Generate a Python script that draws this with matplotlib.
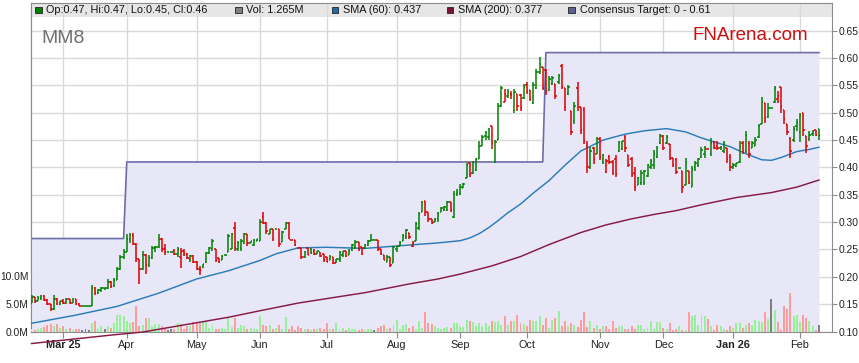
import numpy as np
import matplotlib
matplotlib.use("Agg")
import matplotlib.pyplot as plt
from matplotlib.collections import LineCollection
from matplotlib.patches import Rectangle

plt.rcParams["font.family"] = ["Liberation Sans", "DejaVu Sans"]

# ─── DATA (daily bars, Feb 2025 → Feb 2026) ────────────────────────────────────
opens = [
    .153, .163, .156, .161, .165, .157, .150, .141, .160, .151,   # 0
    .155, .152, .159, .153, .160, .151, .147, .147, .147, .147,   # 10
    .180, .170, .176, .179, .179, .190, .183, .195, .214, .236,   # 20
    .246, .270, .276, .260, .232, .215, .240, .222, .235, .252,   # 30
    .254, .270, .250, .245, .245, .247, .242, .236, .248, .242,   # 40
    .232, .238, .228, .215, .218, .227, .243, .250, .251, .234,   # 50
    .230, .239, .245, .251, .290, .250, .252, .262, .278, .262,   # 60
    .258, .266, .266, .310, .298, .279, .287, .287, .287, .263,   # 70
    .288, .298, .267, .267, .253, .253, .236, .252, .250, .248,   # 80
    .242, .245, .242, .236, .230, .236, .226, .233, .240, .247,   # 90
    .239, .249, .252, .263, .254, .252, .258, .266, .267, .267,   # 100
    .250, .239, .228, .236, .226, .250, .256, .266, .272, .280,   # 110
    .256, .266, .290, .318, .339, .318, .305, .300, .306, .318,   # 120
    .322, .322, .336, .310, .352, .352, .363, .381, .409, .390,   # 130
    .395, .415, .440, .458, .455, .475, .410, .450, .512, .520,   # 140
    .530, .535, .505, .534, .532, .527, .550, .541, .518, .545,   # 150
    .575, .583, .578, .541, .552, .553, .556, .585, .545, .535,   # 160
    .504, .485, .545, .510, .505, .440, .400, .435, .425, .452,   # 170
    .410, .392, .420, .410, .415, .430, .434, .455, .422, .415,   # 180
    .390, .367, .372, .372, .385, .400, .405, .420, .445, .458,   # 190
    .445, .443, .418, .415, .399, .394, .367, .394, .365, .400,   # 200
    .404, .420, .425, .433, .425, .445, .440, .435, .430, .436,   # 210
    .420, .400, .402, .410, .445, .430, .445, .436, .440, .455,   # 220
    .480, .518, .492, .508, .520, .525, .547, .505, .480, .452,   # 230
    .450, .475, .465, .499, .458, .452, .462, .468, .470,         # 240
]
highs = [
    .167, .164, .165, .167, .166, .160, .151, .167, .161, .156,
    .160, .162, .160, .161, .160, .152, .147, .147, .147, .185,
    .182, .178, .181, .180, .196, .192, .198, .218, .240, .250,
    .279, .281, .280, .262, .233, .248, .241, .239, .257, .256,
    .279, .271, .260, .245, .245, .250, .255, .253, .250, .243,
    .240, .240, .229, .220, .224, .245, .254, .269, .251, .234,
    .239, .239, .278, .281, .300, .266, .269, .281, .278, .266,
    .269, .269, .306, .319, .300, .287, .287, .287, .287, .284,
    .300, .300, .267, .267, .253, .253, .248, .253, .253, .251,
    .248, .245, .242, .236, .239, .236, .233, .248, .248, .248,
    .251, .260, .267, .263, .254, .260, .268, .278, .267, .267,
    .250, .239, .239, .236, .257, .257, .266, .278, .287, .280,
    .266, .300, .318, .339, .339, .318, .305, .308, .318, .327,
    .330, .339, .336, .357, .360, .370, .372, .409, .409, .412,
    .418, .448, .460, .467, .473, .476, .450, .518, .549, .543,
    .543, .540, .543, .534, .535, .553, .556, .541, .556, .580,
    .602, .583, .580, .568, .568, .553, .571, .590, .545, .550,
    .504, .519, .556, .510, .510, .449, .437, .437, .456, .456,
    .425, .416, .422, .413, .422, .449, .449, .459, .422, .419,
    .401, .383, .395, .395, .407, .416, .431, .440, .462, .459,
    .459, .443, .418, .418, .399, .394, .418, .394, .403, .412,
    .418, .438, .439, .433, .453, .449, .449, .439, .449, .436,
    .424, .409, .409, .449, .449, .467, .449, .449, .455, .480,
    .528, .518, .518, .508, .549, .540, .547, .505, .480, .455,
    .476, .488, .499, .499, .458, .467, .468, .468, .470,
]
lows = [
    .152, .153, .155, .158, .155, .148, .138, .140, .148, .148,
    .150, .150, .150, .152, .149, .147, .147, .147, .147, .147,
    .166, .168, .173, .175, .178, .180, .182, .194, .212, .232,
    .245, .262, .258, .228, .187, .213, .205, .218, .233, .246,
    .252, .245, .240, .245, .245, .240, .236, .217, .238, .232,
    .228, .225, .212, .204, .217, .226, .242, .248, .227, .225,
    .230, .239, .245, .251, .248, .248, .248, .260, .257, .262,
    .257, .266, .266, .296, .278, .278, .266, .287, .254, .263,
    .287, .269, .267, .257, .253, .233, .234, .239, .242, .239,
    .242, .237, .227, .227, .230, .224, .226, .227, .237, .236,
    .239, .248, .251, .248, .239, .250, .257, .265, .267, .248,
    .240, .230, .227, .218, .225, .245, .256, .266, .270, .270,
    .254, .266, .286, .318, .312, .300, .297, .300, .300, .318,
    .321, .321, .318, .308, .348, .350, .362, .380, .382, .388,
    .394, .415, .440, .450, .450, .434, .409, .450, .510, .520,
    .527, .525, .500, .503, .504, .525, .535, .522, .516, .544,
    .570, .541, .532, .540, .550, .526, .553, .544, .504, .532,
    .459, .480, .504, .462, .443, .389, .398, .407, .425, .413,
    .407, .389, .407, .386, .383, .428, .431, .428, .401, .383,
    .357, .367, .367, .367, .383, .398, .398, .418, .443, .431,
    .443, .413, .400, .388, .399, .353, .367, .370, .365, .394,
    .400, .418, .418, .433, .421, .433, .432, .431, .427, .409,
    .394, .397, .401, .409, .424, .427, .418, .436, .439, .453,
    .479, .482, .491, .508, .518, .518, .500, .479, .460, .418,
    .447, .467, .447, .458, .427, .449, .458, .458, .450,
]
closes = [
    .163, .156, .161, .165, .157, .150, .141, .160, .151, .155,
    .152, .159, .153, .160, .151, .147, .147, .147, .147, .180,
    .170, .176, .179, .179, .190, .183, .195, .214, .236, .246,
    .270, .276, .260, .232, .215, .240, .222, .235, .252, .254,
    .270, .250, .245, .245, .245, .242, .250, .248, .242, .235,
    .238, .228, .215, .212, .223, .243, .252, .265, .230, .228,
    .238, .239, .275, .279, .252, .262, .266, .278, .262, .266,
    .268, .269, .300, .298, .283, .287, .270, .287, .260, .282,
    .298, .270, .267, .258, .253, .236, .246, .240, .244, .242,
    .247, .238, .230, .228, .237, .226, .233, .245, .247, .238,
    .249, .258, .264, .250, .242, .258, .266, .267, .267, .250,
    .241, .231, .236, .222, .255, .256, .262, .276, .285, .272,
    .262, .296, .315, .336, .318, .305, .298, .306, .316, .325,
    .328, .336, .322, .352, .355, .365, .370, .405, .388, .410,
    .415, .440, .455, .465, .470, .445, .447, .512, .545, .535,
    .538, .532, .538, .512, .508, .548, .538, .526, .550, .575,
    .590, .546, .540, .562, .563, .530, .568, .548, .510, .548,
    .465, .512, .510, .468, .448, .400, .430, .415, .452, .420,
    .422, .412, .410, .390, .388, .446, .448, .435, .405, .388,
    .365, .380, .390, .393, .404, .412, .425, .435, .458, .436,
    .455, .418, .405, .392, .399, .365, .410, .372, .398, .408,
    .415, .432, .435, .433, .445, .436, .435, .437, .445, .415,
    .400, .405, .408, .440, .428, .460, .425, .445, .450, .475,
    .520, .490, .508, .508, .545, .530, .512, .488, .465, .430,
    .470, .482, .495, .468, .440, .460, .466, .460, .460,
]
volumes_m = [
    0.4, 0.3, 0.5, 0.6, 0.8, 1.2, 1.4, 1.0, 1.3, 0.6,
    0.9, 0.4, 0.6, 0.3, 0.5, 0.4, 0.3, 0.4, 0.3, 1.6,
    1.8, 0.5, 0.9, 0.5, 1.0, 0.6, 1.5, 3.0, 2.9, 2.7,
    1.8, 1.5, 1.7, 4.6, 1.0, 1.2, 2.4, 2.4, 1.0, 1.3,
    1.4, 1.0, 0.7, 0.3, 0.4, 0.5, 1.5, 1.4, 0.5, 0.9,
    0.9, 1.7, 1.7, 1.6, 1.7, 1.8, 0.7, 1.2, 0.5, 0.4,
    0.6, 0.5, 2.4, 0.8, 2.4, 0.6, 1.2, 0.9, 0.4, 0.6,
    0.5, 0.4, 2.7, 1.2, 1.0, 1.1, 0.4, 0.6, 1.2, 0.5,
    2.6, 0.4, 0.9, 0.3, 0.9, 0.6, 0.4, 0.5, 0.3, 0.4,
    0.5, 0.6, 0.4, 1.5, 0.5, 0.4, 1.5, 0.5, 0.7, 0.3,
    0.6, 0.4, 0.5, 0.3, 0.4, 0.3, 0.4, 0.5, 0.3, 0.6,
    1.0, 1.2, 0.5, 0.7, 1.2, 2.1, 0.4, 1.2, 1.3, 0.6,
    0.9, 0.5, 1.8, 0.6, 3.5, 1.5, 1.4, 1.0, 0.7, 0.5,
    0.6, 0.8, 0.7, 1.5, 1.6, 1.0, 0.8, 2.1, 1.8, 1.7,
    1.0, 1.5, 0.9, 1.5, 1.0, 1.8, 1.7, 1.8, 1.2, 2.7,
    1.2, 1.8, 1.8, 3.0, 1.5, 1.4, 1.0, 2.1, 1.8, 1.8,
    2.7, 1.2, 2.4, 0.6, 2.1, 2.4, 3.6, 1.0, 1.8, 0.9,
    1.5, 1.2, 0.8, 2.1, 3.5, 0.8, 1.8, 0.6, 1.2, 0.5,
    0.9, 0.9, 0.4, 1.8, 0.6, 0.9, 0.9, 0.5, 0.4, 0.9,
    0.5, 1.2, 1.2, 0.5, 0.6, 1.8, 0.5, 1.7, 1.7, 0.6,
    0.4, 1.5, 0.3, 0.4, 0.9, 0.2, 0.3, 3.5, 2.7, 2.9,
    1.2, 2.9, 2.7, 2.3, 0.9, 0.3, 1.2, 0.9, 0.5, 0.3,
    0.9, 0.6, 1.5, 1.5, 0.7, 1.1, 1.5, 1.1, 2.1, 1.9,
    1.7, 3.5, 2.3, 5.8, 3.8, 1.7, 0.3, 4.5, 4.1, 6.8,
    2.7, 3.0, 1.7, 3.0, 2.5, 1.9, 0.9, 0.3, 1.2,
]

# moving averages, read as (bar index, value) points
sma60_idx = [0, 14, 27, 40, 52, 62, 72, 77, 84, 93, 105, 121, 128, 135, 138, 141,
             144, 147, 150, 154, 158, 163, 168, 173, 180, 187, 193, 200, 206, 211,
             216, 220, 225, 230, 233, 236, 241, 245, 248]
sma60_val = [.115, .130, .146, .170, .196, .211, .230, .242, .253, .254, .252, .259,
             .262, .266, .271, .279, .290, .303, .317, .333, .353, .376, .404, .430,
             .450, .461, .467, .471, .465, .454, .445, .438, .425, .414, .413, .418,
             .429, .433, .437]
sma200_idx = [0, 26, 35, 41, 51, 62, 72, 84, 95, 105, 119, 128, 135, 145, 154, 163,
              173, 181, 189, 196, 203, 212, 222, 233, 241, 248]
sma200_val = [.078, .094, .099, .105, .115, .126, .138, .152, .162, .171, .187, .196,
              .205, .220, .237, .259, .281, .295, .306, .314, .321, .333, .345, .354,
              .364, .377]

# consensus target: level and first bar where it applies
target_start = [0, 30, 162]
target_level = [0.27, 0.41, 0.61]

month_pos = [10, 30, 52, 72, 93, 115, 135, 156, 179, 199, 221, 242]
month_labels = ["Mar 25", "Apr", "May", "Jun", "Jul", "Aug", "Sep", "Oct",
                "Nov", "Dec", "Jan 26", "Feb"]
price_ticks = [0.10, 0.15, 0.20, 0.25, 0.30, 0.35, 0.40, 0.45, 0.50, 0.55, 0.60, 0.65]
vol_ticks = [0, 5, 10]

UP, DOWN, FLAT = "#008000", "#dd0000", "#808080"
VOL_UP, VOL_DOWN = "#98f098", "#ff9c9c"
GRAY = "#8c8c8c"

# ─── FIGURE ────────────────────────────────────────────────────────────────────
n = len(closes)
x = np.arange(n)
o, h, l, c = map(np.array, (opens, highs, lows, closes))
vol = np.array(volumes_m)
prev = np.concatenate([[o[0]], c[:-1]])

fig = plt.figure(figsize=(8.59, 3.63), dpi=100)
ax = fig.add_axes([31 / 859, 31.5 / 363, 801 / 859, 328.5 / 363])
ax.set_xlim(-0.16, 252.1)
ax.set_ylim(0.10, 0.7007)

# header band + grid
band_h = 14 / 328.5
ax.add_patch(Rectangle((0, 1 - band_h), 1, band_h, transform=ax.transAxes,
                       color="#e6e6e6", zorder=0.2, lw=0))
ax.set_axisbelow(True)
ax.grid(True, color="#d9d9d9", lw=1.0)

# consensus target area
level_per_bar = np.zeros(n)
for s, v in zip(target_start, target_level):
    level_per_bar[s:] = v
ax.fill_between(x, 0.0, level_per_bar, color="#e7e7f7", lw=0, zorder=1)
ax.plot(x, level_per_bar, color="#6c6ca6", lw=1.2, zorder=2)

# volume bars on price scale (10M ~ 0.1 in price units)
k = 5.6 / 546.9
vcol = np.where(c > prev, VOL_UP, np.where(c < prev, VOL_DOWN, FLAT))
ax.bar(x, vol * k, bottom=0.10, width=0.62, color=vcol, lw=0, zorder=3)

# moving averages
ax.plot(sma60_idx, sma60_val, color="#2c7cb8", lw=1.05, zorder=4)
ax.plot(sma200_idx, sma200_val, color="#851a44", lw=1.05, zorder=4, clip_on=False)

# OHLC bars
segs, cols = [], []
for i in range(n):
    col = DOWN if c[i] < prev[i] else UP
    segs += [[(i, l[i]), (i, h[i])],
             [(i - 0.45, o[i]), (i, o[i])],
             [(i, c[i]), (i + 0.45, c[i])]]
    cols += [col] * 3
ax.add_collection(LineCollection(segs, colors=cols, linewidths=1.1, zorder=5))

# axes, ticks
for sp in ax.spines.values():
    sp.set_color(GRAY)
ax.yaxis.tick_right()
ax.set_yticks(price_ticks)
ax.set_yticklabels([f"{t:.2f}" for t in price_ticks])
ax.tick_params(axis="y", direction="out", length=3.5, color=GRAY,
               labelcolor="#222222", labelsize=7.4, pad=1.5)
ax.set_xticks(month_pos)
ax.set_xticklabels(month_labels)
ax.tick_params(axis="x", direction="out", length=4, color=GRAY,
               labelcolor="#222222", labelsize=7.8, pad=2)
for lab in ax.get_xticklabels():
    if " " in lab.get_text():
        lab.set_fontweight("bold")

sec = ax.secondary_yaxis("left", functions=(lambda p: (p - 0.10) / k,
                                            lambda v: 0.10 + v * k))
sec.set_yticks(vol_ticks)
sec.set_yticklabels([f"{t:.1f}M" for t in vol_ticks])
sec.tick_params(direction="in", length=4, color="#222222", labelcolor="#222222",
                labelsize=7.4, pad=1.5)
sec.spines["left"].set_color(GRAY)

# legend strip
legend_items = [
    (35, UP, "Op:0.47, Hi:0.47, Lo:0.45, Cl:0.46"),
    (235, FLAT, "Vol: 1.265M"),
    (331.5, "#1f6eab", "SMA (60): 0.437"),
    (446.5, "#7d1035", "SMA (200): 0.377"),
    (568, "#606090", "Consensus Target: 0 - 0.61"),
]
sq_w, sq_h = 6.5 / 801, 6.5 / 328.5
yc = (331.5 - 10) / 328.5
for px, colr, txt in legend_items:
    fx = (px - 31) / 801
    ax.add_patch(Rectangle((fx, yc - sq_h / 2), sq_w, sq_h, transform=ax.transAxes,
                           facecolor=colr, edgecolor="#222222", lw=0.6, zorder=6))
    ax.text(fx + 11.5 / 801, yc, txt, transform=ax.transAxes, fontsize=7.8,
            color="#111111", va="center", ha="left", zorder=6)

ax.text((41 - 31) / 801, (331.5 - 43) / 328.5, "MM8", transform=ax.transAxes,
        fontsize=14, color="#707070", va="baseline", zorder=6)
ax.text((808 - 31) / 801, (331.5 - 40) / 328.5, "FNArena.com", transform=ax.transAxes,
        fontsize=13.5, color="#cc1010", va="baseline", ha="right", zorder=6)

fig.savefig("out.png", dpi=100)
